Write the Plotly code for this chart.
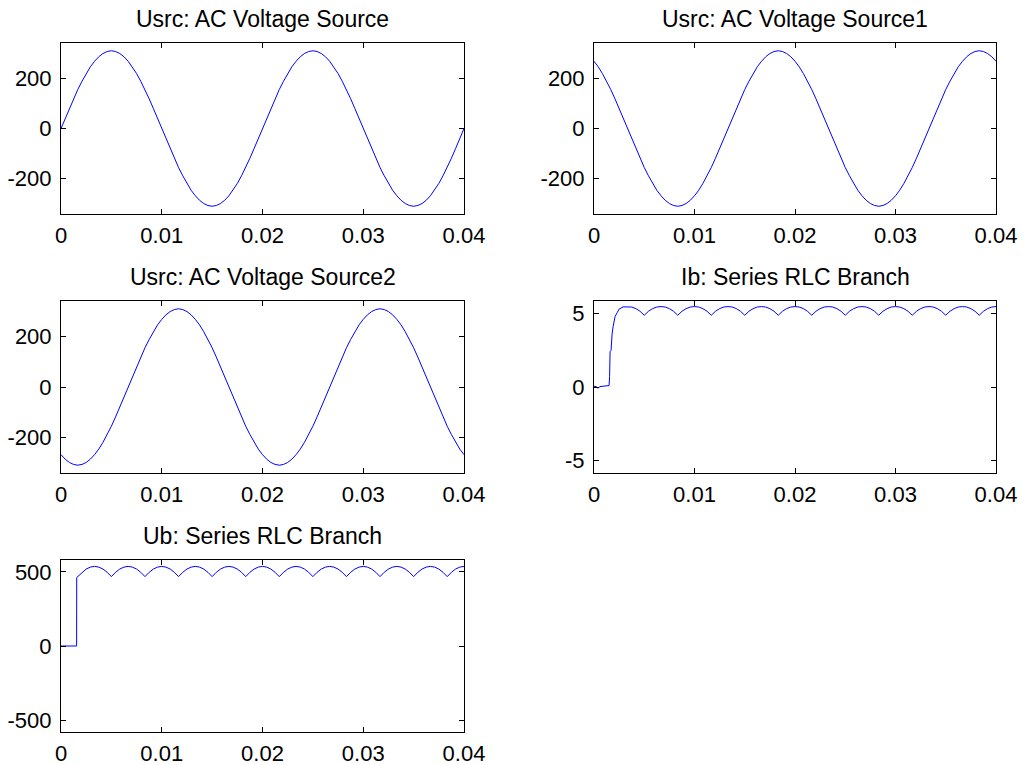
import numpy as np
import plotly.graph_objects as go

# ---------------- data ----------------
titles = ["Usrc: AC Voltage Source", "Usrc: AC Voltage Source1",
          "Usrc: AC Voltage Source2", "Ib: Series RLC Branch",
          "Ub: Series RLC Branch"]

x_ticks = [0, 0.01, 0.02, 0.03, 0.04]
x_ticktext = ["0", "0.01", "0.02", "0.03", "0.04"]
v_ticks = [-200, 0, 200]
v_ticktext = ["-200", "0", "200"]
ib_ticks = [-5, 0, 5]
ib_ticktext = ["-5", "0", "5"]
ub_ticks = [-500, 0, 500]
ub_ticktext = ["-500", "0", "500"]

# sampling grid of the scope traces (0 .. 0.04 s)
t_grid = np.linspace(0, 0.04, 97)

usrc = [0, 41, 80, 119, 156, 189, 220, 247, 269, 287, 300, 308, 311, 308, 300, 287,
        269, 247, 220, 189, 156, 119, 80, 41, 0, -41, -80, -119, -156, -189, -220, -247,
        -269, -287, -300, -308, -311, -308, -300, -287, -269, -247, -220, -189, -156, -119, -80, -41,
        0, 41, 80, 119, 156, 189, 220, 247, 269, 287, 300, 308, 311, 308, 300, 287,
        269, 247, 220, 189, 156, 119, 80, 41, 0, -41, -80, -119, -156, -189, -220, -247,
        -269, -287, -300, -308, -311, -308, -300, -287, -269, -247, -220, -189, -156, -119, -80, -41,
        0]

usrc1 = [269, 247, 220, 189, 156, 119, 80, 41, 0, -41, -80, -119, -156, -189, -220, -247,
         -269, -287, -300, -308, -311, -308, -300, -287, -269, -247, -220, -189, -156, -119, -80, -41,
         0, 41, 80, 119, 156, 189, 220, 247, 269, 287, 300, 308, 311, 308, 300, 287,
         269, 247, 220, 189, 156, 119, 80, 41, 0, -41, -80, -119, -156, -189, -220, -247,
         -269, -287, -300, -308, -311, -308, -300, -287, -269, -247, -220, -189, -156, -119, -80, -41,
         0, 41, 80, 119, 156, 189, 220, 247, 269, 287, 300, 308, 311, 308, 300, 287,
         269]

usrc2 = [-269, -287, -300, -308, -311, -308, -300, -287, -269, -247, -220, -189, -156, -119, -80, -41,
         0, 41, 80, 119, 156, 189, 220, 247, 269, 287, 300, 308, 311, 308, 300, 287,
         269, 247, 220, 189, 156, 119, 80, 41, 0, -41, -80, -119, -156, -189, -220, -247,
         -269, -287, -300, -308, -311, -308, -300, -287, -269, -247, -220, -189, -156, -119, -80, -41,
         0, 41, 80, 119, 156, 189, 220, 247, 269, 287, 300, 308, 311, 308, 300, 287,
         269, 247, 220, 189, 156, 119, 80, 41, 0, -41, -80, -119, -156, -189, -220, -247,
         -269]

# Ib: start-up part (explicit times) then steady part on the grid from k=8
ib_t_start = [0, 0.0002, 0.0004, 0.0006, 0.0009, 0.0013, 0.0015, 0.00155, 0.0016,
              0.0017, 0.00175, 0.0018, 0.0019, 0.00195, 0.0021, 0.0023, 0.0025, 0.0029]
ib_start = [0.05, 0.03, -0.08, 0.03, 0.05, 0.05, 0.1, 0.7, 2.4,
            2.5, 3.5, 3.6, 4.1, 4.3, 4.8, 5.05, 5.3, 5.45]
ib_steady = [5.47, 5.44, 5.33, 5.15, 4.88, 5.15, 5.33, 5.44,
             5.47, 5.44, 5.33, 5.15, 4.88, 5.15, 5.33, 5.44,
             5.47, 5.44, 5.33, 5.15, 4.88, 5.15, 5.33, 5.44,
             5.47, 5.44, 5.33, 5.15, 4.88, 5.15, 5.33, 5.44,
             5.47, 5.44, 5.33, 5.15, 4.88, 5.15, 5.33, 5.44,
             5.47, 5.44, 5.33, 5.15, 4.88, 5.15, 5.33, 5.44,
             5.47, 5.44, 5.33, 5.15, 4.88, 5.15, 5.33, 5.44,
             5.47, 5.44, 5.33, 5.15, 4.88, 5.15, 5.33, 5.44,
             5.47, 5.44, 5.33, 5.15, 4.88, 5.15, 5.33, 5.44,
             5.47, 5.44, 5.33, 5.15, 4.88, 5.15, 5.33, 5.44,
             5.47, 5.44, 5.33, 5.15, 4.88, 5.15, 5.33, 5.44,
             5.47]

# Ub: start-up part (explicit times) then steady part on the grid from k=4
ub_t_start = [0, 0.00155, 0.00156]
ub_start = [0, 0, 462]
ub_steady = [468, 497, 519, 532, 537, 532, 519, 497,
             468, 497, 519, 532, 537, 532, 519, 497,
             468, 497, 519, 532, 537, 532, 519, 497,
             468, 497, 519, 532, 537, 532, 519, 497,
             468, 497, 519, 532, 537, 532, 519, 497,
             468, 497, 519, 532, 537, 532, 519, 497,
             468, 497, 519, 532, 537, 532, 519, 497,
             468, 497, 519, 532, 537, 532, 519, 497,
             468, 497, 519, 532, 537, 532, 519, 497,
             468, 497, 519, 532, 537, 532, 519, 497,
             468, 497, 519, 532, 537, 532, 519, 497,
             468, 497, 519, 532, 537]

ib_t = list(ib_t_start) + list(t_grid[8:])
ib_v = ib_start + ib_steady
ub_t = list(ub_t_start) + list(t_grid[4:])
ub_v = ub_start + ub_steady

# ---------------- layout ----------------
W, H = 1022, 765
FONT = "Liberation Sans, Arial, Helvetica, sans-serif"
FS = 22
FS_TITLE = 23

col_px = [(61, 464), (594, 996)]
row_px = [(43, 214), (301, 473), (560, 732)]

panels = [
    (0, 0, list(t_grid), usrc, [-342, 342], v_ticks, v_ticktext),
    (0, 1, list(t_grid), usrc1, [-342, 342], v_ticks, v_ticktext),
    (1, 0, list(t_grid), usrc2, [-342, 342], v_ticks, v_ticktext),
    (1, 1, ib_t, ib_v, [-5.85, 5.85], ib_ticks, ib_ticktext),
    (2, 0, ub_t, ub_v, [-580, 580], ub_ticks, ub_ticktext),
]

fig = go.Figure()
layout = dict(
    width=W, height=H, autosize=False,
    margin=dict(l=0, r=0, t=0, b=0, pad=0),
    paper_bgcolor="white", plot_bgcolor="white",
    showlegend=False,
    font=dict(family=FONT, size=FS, color="black"),
    annotations=[],
)

for i, (r, c, xs, ys, yr, yt, ytt) in enumerate(panels):
    n = "" if i == 0 else str(i + 1)
    fig.add_trace(go.Scatter(x=xs, y=ys, mode="lines",
                             line=dict(color="#0000ff", width=1),
                             xaxis="x" + n, yaxis="y" + n, hoverinfo="skip"))
    x0, x1 = col_px[c]
    y0, y1 = row_px[r]
    common = dict(showline=True, linecolor="black", linewidth=1, mirror="ticks",
                  ticks="inside", ticklen=5, tickcolor="black", tickwidth=1,
                  showgrid=False, zeroline=False, automargin=False,
                  tickfont=dict(family=FONT, size=FS, color="black"))
    layout["xaxis" + n] = dict(common, domain=[x0 / W, x1 / W], range=[0, 0.04],
                               tickvals=x_ticks, ticktext=x_ticktext,
                               anchor="y" + n, ticklabelstandoff=2)
    layout["yaxis" + n] = dict(common, domain=[1 - y1 / H, 1 - y0 / H], range=yr,
                               tickvals=yt, ticktext=ytt,
                               anchor="x" + n, ticklabelstandoff=4)
    layout["annotations"].append(dict(
        text=titles[i], x=(x0 + x1) / 2 / W, y=1 - (y0 - 24) / H,
        xref="paper", yref="paper", xanchor="center", yanchor="middle",
        showarrow=False, font=dict(family=FONT, size=FS_TITLE, color="black")))

fig.update_layout(**layout)
fig.write_html("out.html", config={"responsive": False, "displayModeBar": False},
               post_script="document.body.style.margin='0';"
                           "document.body.style.overflow='hidden';")
